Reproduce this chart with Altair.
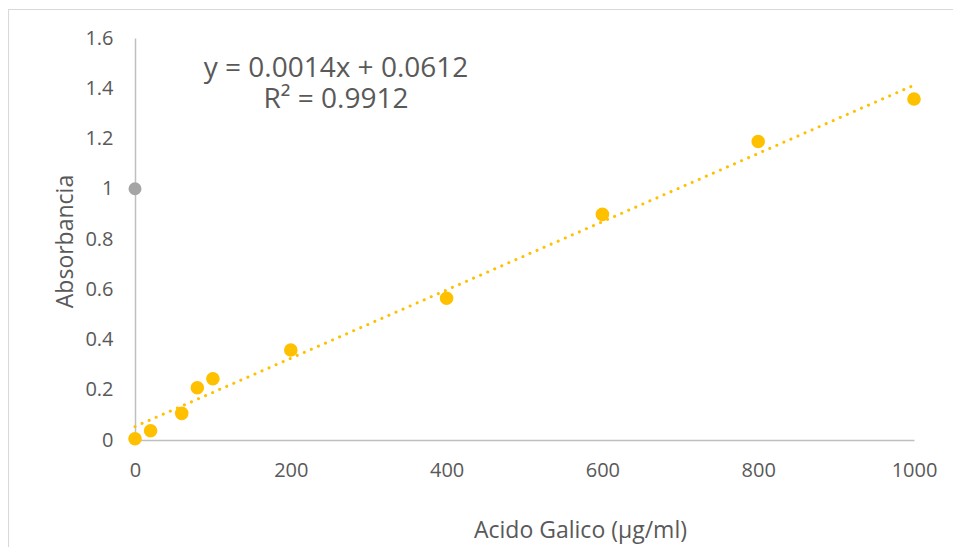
import altair as alt
import pandas as pd

# ---- data ----
conc = [0, 20, 60, 80, 100, 200, 400, 600, 800, 1000]
absorb = [0.005, 0.037, 0.106, 0.208, 0.244, 0.358, 0.564, 0.898, 1.188, 1.357]
extra_conc = [0]
extra_absorb = [1.0]
eq_text = ["y = 0.0014x + 0.0612", "R² = 0.9912"]
eq_conc = [258]
eq_absorb = [1.475]
x_ticks = [0, 200, 400, 600, 800, 1000]
y_ticks = [0, 0.2, 0.4, 0.6, 0.8, 1.0, 1.2, 1.4, 1.6]

ORANGE = "#FFC000"
GRAY = "#A5A5A5"
TEXT = "#595959"
FONT = "Open Sans"

main_df = pd.DataFrame({"x": conc, "y": absorb})
extra_df = pd.DataFrame({"x": extra_conc, "y": extra_absorb})
eq_df = pd.DataFrame({"x": eq_conc, "y": eq_absorb, "t": ["\n".join(eq_text)]})

xscale = alt.Scale(domain=[0, 1000], nice=False, zero=False)
yscale = alt.Scale(domain=[0, 1.6], nice=False, zero=False)

xaxis = alt.Axis(
    values=x_ticks, format="d", title="Acido Galico (µg/ml)", labelFlush=False,
    grid=False, ticks=False, domainColor="#BFBFBF", domainWidth=1.5,
    labelColor=TEXT, labelFont=FONT, labelFontSize=20, labelPadding=20,
    titleColor=TEXT, titleFont=FONT, titleFontSize=23, titleFontWeight="normal",
    titleX=445, titleY=97, titleBaseline="alphabetic", titleAlign="center",
)
yaxis = alt.Axis(
    values=y_ticks, format="~g", title="Absorbancia", labelFlush=False,
    grid=False, ticks=False, domainColor="#BFBFBF", domainWidth=1.5,
    labelColor=TEXT, labelFont=FONT, labelFontSize=20, labelPadding=22,
    titleColor=TEXT, titleFont=FONT, titleFontSize=23, titleFontWeight="normal",
    titleX=-63, titleY=203, titleBaseline="alphabetic", titleAlign="center",
    titleAngle=270,
)

X = alt.X("x:Q", scale=xscale, axis=xaxis)
Y = alt.Y("y:Q", scale=yscale, axis=yaxis)

border = alt.Chart(pd.DataFrame({"a": [0]})).mark_rect(
    fillOpacity=0, stroke="#D9D9D9", strokeWidth=1.2
).encode(x=alt.value(-126.5), x2=alt.value(900), y=alt.value(-28.5), y2=alt.value(700))

trend = alt.Chart(main_df).transform_regression(
    "x", "y", method="linear", extent=[0, 1000]
).mark_line(
    color=ORANGE, strokeWidth=3, strokeCap="round", strokeDash=[0.1, 7.6]
).encode(x=X, y=Y)

points = alt.Chart(main_df).mark_circle(size=185, color=ORANGE, opacity=1).encode(x=X, y=Y)
extra = alt.Chart(extra_df).mark_circle(size=170, color=GRAY, opacity=1).encode(x=X, y=Y)

eq = alt.Chart(eq_df).mark_text(
    font=FONT, fontSize=28, color=TEXT, align="center", baseline="middle",
    lineBreak="\n", lineHeight=31
).encode(x=X, y=Y, text="t:N")

chart = alt.layer(border, trend, extra, points, eq).properties(
    width=779, height=402, autosize="none",
    padding={"left": 127, "top": 30, "right": 39, "bottom": 107},
    background="white",
).configure_view(stroke=None)

chart.save("out.html", embed_options={"renderer": "svg", "actions": False})
